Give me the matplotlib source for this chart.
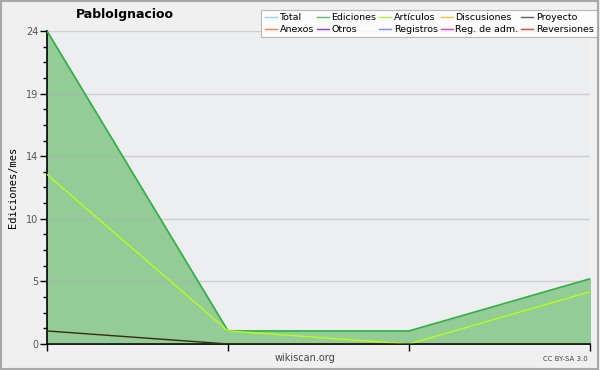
import matplotlib
matplotlib.use("Agg")
import matplotlib.pyplot as plt
from matplotlib.patches import Rectangle
import numpy as np

# datos (ediciones por mes)
meses = [0, 1, 2, 3]
ediciones = [24, 1, 1, 5]
articulos = [13, 1, 0, 4]
proyecto = [1, 0, 0, 0]

y_ticks = [0, 4.8, 9.6, 14.4, 19.2, 24]
y_labels = ["0", "5", "10", "14", "19", "24"]

leyenda = ["Total", "Ediciones", "Artículos", "Discusiones", "Proyecto",
           "Anexos", "Otros", "Registros", "Reg. de adm.", "Reversiones"]
colores = ["#8ee0e6", "#5cbf6c", "#b8f03c", "#f2c43c", "#606060",
           "#f08a3c", "#8a3ce6", "#7a8cf0", "#e03ce6", "#f03c3c"]

fig = plt.figure(figsize=(6, 3.7), dpi=100, facecolor="#f0f0f0")
fig.patches.append(Rectangle((0.002, 0.003), 0.995, 0.994, transform=fig.transFigure,
                             fill=False, edgecolor="#a8a8a8", linewidth=1.5))

ax = fig.add_axes([0.0783, 0.0703, 0.905, 0.8459])
ax.set_facecolor("#edeef0")

ax.fill_between(meses, ediciones, 0, color="#93cc97", zorder=1)
ax.plot(meses, ediciones, color="#33b045", lw=1.2, zorder=3)
ax.plot(meses, articulos, color="#b4ff1a", lw=1.0, zorder=4)
ax.plot(meses, proyecto, color="#3a2a10", lw=1.0, zorder=4)

ax.set_xlim(0, 3)
ax.set_ylim(0, 24)
ax.set_yticks(y_ticks)
ax.set_yticklabels(y_labels, fontsize=7, color="#555555")
ax.set_yticks(np.arange(0, 24.01, 1.2), minor=True)
ax.set_xticks(meses)
ax.set_xticklabels([])
ax.tick_params(axis="y", which="major", length=5, width=1, color="black", pad=1)
ax.tick_params(axis="y", which="minor", length=3, width=1, color="black")
ax.tick_params(axis="x", length=5, width=1, color="black")
ax.grid(axis="y", color="#b0b0b0", alpha=0.5, lw=1, zorder=2)
ax.set_axisbelow(False)
for s in ["top", "right"]:
    ax.spines[s].set_visible(False)
ax.spines["left"].set_linewidth(1.2)
ax.spines["bottom"].set_linewidth(1.2)

ax.set_ylabel("Ediciones/mes", fontsize=7.5, family="DejaVu Sans Mono", labelpad=6)
fig.text(0.509, 0.032, "wikiscan.org", fontsize=7, color="#444444", ha="center", va="center")

fig.text(0.208, 0.962, "PabloIgnacioo", fontsize=9, fontweight="bold", ha="center", va="center")
fig.text(0.98, 0.03, "CC BY-SA 3.0", fontsize=5, color="#444444", ha="right", va="center")

# la leyenda se llena por columnas: reordenar para que las filas queden como en el original
orden = [0, 5, 1, 6, 2, 7, 3, 8, 4, 9]
handles = [plt.Line2D([], [], color=colores[i], lw=1) for i in orden]
etiquetas = [leyenda[i] for i in orden]
leg = fig.legend(handles, etiquetas, ncol=5, loc="upper right", bbox_to_anchor=(0.995, 0.973),
                 fontsize=6.8, frameon=True, fancybox=False, handlelength=1.3,
                 handletextpad=0.25, columnspacing=0.3, labelspacing=0.3,
                 borderpad=0.35, borderaxespad=0)
leg.get_frame().set_edgecolor("#aaaaaa")
leg.get_frame().set_facecolor("white")
leg.get_frame().set_linewidth(0.8)

fig.savefig("out.png", dpi=100, facecolor=fig.get_facecolor())
